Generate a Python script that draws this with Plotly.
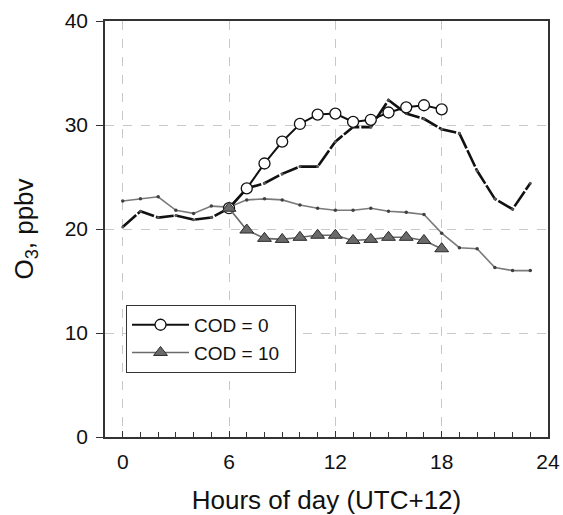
import plotly.graph_objects as go

hours_full = list(range(0, 24))
hours_day = list(range(6, 19))

clear_obs = [20.2, 21.7, 21.1, 21.3, 20.9, 21.1, 22.0, 23.9, 24.4, 25.3, 26.0, 26.0,
             28.4, 29.8, 29.8, 32.4, 31.1, 30.6, 29.6, 29.2, 25.6, 22.9, 21.9, 24.4]
cloudy_obs = [22.7, 22.9, 23.1, 21.8, 21.5, 22.2, 22.1, 22.8, 22.9, 22.8, 22.3, 22.0,
              21.8, 21.8, 22.0, 21.7, 21.6, 21.4, 19.6, 18.2, 18.1, 16.3, 16.0, 16.0]
cod0 = [22.0, 23.9, 26.3, 28.4, 30.1, 31.0, 31.1, 30.3, 30.5, 31.2, 31.7, 31.9, 31.5]
cod10 = [22.0, 19.9, 19.1, 19.0, 19.2, 19.4, 19.4, 18.9, 19.0, 19.2, 19.2, 18.9, 18.1]

series_names = ["COD = 0", "COD = 10"]
x_ticks = [0, 6, 12, 18, 24]
y_ticks = [0, 10, 20, 30, 40]

FONT = "Liberation Sans, Arial, sans-serif"
PAD = "\u00a0\u00a0"

fig = go.Figure()

fig.add_trace(go.Scatter(
    x=hours_full, y=cloudy_obs, mode="lines+markers", showlegend=False,
    line=dict(color="#7a7a7a", width=1.6),
    marker=dict(size=3.5, color="#404040"),
))
fig.add_trace(go.Scatter(
    x=hours_full, y=clear_obs, mode="lines+markers", showlegend=False,
    line=dict(color="#111111", width=2.6, dash="18px,2px"),
    marker=dict(size=3, color="#555555"),
))
fig.add_trace(go.Scatter(
    x=hours_day, y=cod0, mode="lines+markers", name=series_names[0] + PAD,
    line=dict(color="#111111", width=2),
    marker=dict(symbol="circle", size=11, color="white",
                line=dict(color="#111111", width=1.3)),
))
fig.add_trace(go.Scatter(
    x=hours_day, y=cod10, mode="lines+markers", name=series_names[1] + PAD,
    line=dict(color="#6a6a6a", width=1.6),
    marker=dict(symbol="triangle-up", size=12, color="#6a6a6a",
                line=dict(color="#2a2a2a", width=1)),
))

fig.update_layout(
    width=563, height=515,
    margin=dict(l=105, r=15, t=21, b=78),
    paper_bgcolor="white", plot_bgcolor="white",
    font=dict(family=FONT, color="#111111", size=21),
    legend=dict(
        x=0.047, y=0.318, xanchor="left", yanchor="top",
        bgcolor="white", bordercolor="#333333", borderwidth=1.2,
        font=dict(size=19, family=FONT),
        tracegroupgap=0, itemwidth=57,
    ),
)

fig.update_xaxes(
    range=[-1, 24], tickvals=x_ticks, ticktext=[str(v) for v in x_ticks],
    showline=True, linecolor="#333333", linewidth=1.5, mirror=True,
    ticks="inside", ticklen=6, tickcolor="#333333",
    minor=dict(ticks="inside", dtick=1, tick0=0, ticklen=5, tickcolor="#333333", showgrid=False),
    showgrid=True, gridcolor="#c8c8c8", griddash="dash", gridwidth=1,
    zeroline=False, ticklabelstandoff=5, automargin=False,
    title=dict(text="Hours of day (UTC+12)", font=dict(size=26), standoff=26),
    tickfont=dict(size=21),
)
fig.update_yaxes(
    range=[0, 40], tickvals=y_ticks, ticktext=[str(v) for v in y_ticks],
    showline=True, linecolor="#333333", linewidth=1.5, mirror=True,
    ticks="outside", ticklen=7, tickcolor="#333333",
    showgrid=True, gridcolor="#c8c8c8", griddash="dash", gridwidth=1,
    zeroline=False, ticklabelstandoff=4, automargin=False,
    title=dict(text="O<sub>3</sub>, ppbv", font=dict(size=26), standoff=24),
    tickfont=dict(size=21),
)

fig.write_html("out.html", config={"displayModeBar": False},
               post_script="document.body.style.margin='0';")
